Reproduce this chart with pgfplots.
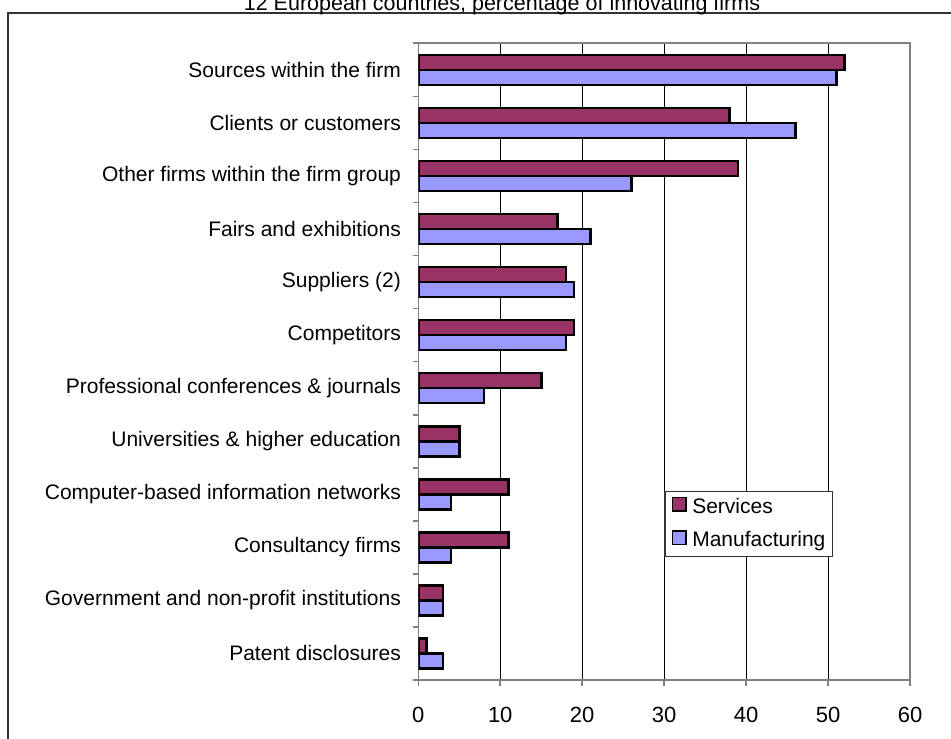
\documentclass[border=0pt]{standalone}
\usepackage{fontspec}
\setmainfont{Liberation Sans}
\usepackage{pgfplots}
\pgfplotsset{compat=1.18}
\definecolor{services}{RGB}{153,51,102}
\definecolor{manuf}{RGB}{153,153,255}
\definecolor{axisgray}{RGB}{128,128,128}
\definecolor{framegray}{RGB}{51,51,51}

% one picture pixel = 0.5pt
\pgfplotstableread{
y  manuf services
0  3  1
1  3  3
2  4  11
3  4  11
4  5  5
5  8  15
6  18 19
7  19 18
8  21 17
9  26 39
10 46 38
11 51 52
}\sourcedata

\begin{document}
\begin{tikzpicture}
\begin{axis}[
  at={(209.15pt,29pt)}, anchor=south west,
  scale only axis, width=245.85pt, height=318.35pt,
  xbar, bar width=7.5pt,
  xmin=0, xmax=60, ymin=-0.5, ymax=11.5,
  xtick={0,10,...,60},
  ytick={0,...,11},
  yticklabels={Patent disclosures,
    Government and non-profit institutions,
    Consultancy firms,
    Computer-based information networks,
    Universities \& higher education,
    Professional conferences \& journals,
    Competitors,
    Suppliers (2),
    Fairs and exhibitions,
    Other firms within the firm group,
    Clients or customers,
    Sources within the firm},
  minor ytick={-0.5,0.5,...,11.5},
  tick align=outside,
  major tick length=3pt, minor tick length=2.5pt,
  major y tick style={draw=none},
  minor y tick style={draw=axisgray, line width=0.8pt},
  major x tick style={draw=axisgray, line width=0.8pt},
  xtick pos=bottom, ytick pos=left,
  xmajorgrids, grid style={black, line width=0.5pt},
  axis line style={axisgray, line width=0.8pt},
  /pgf/number format/assume math mode=true,
  xticklabel style={font=\fontsize{11}{13}\selectfont, inner sep=0pt, anchor=north, yshift=-10.5pt},
  yticklabel style={font=\fontsize{10.5}{12}\selectfont, inner sep=0pt, anchor=east, xshift=-5.5pt},
  reverse legend, legend cell align=left,
  legend style={at={(0.5003,0.2968)}, anchor=north west, draw=framegray, line width=0.6pt,
    fill=white, font=\fontsize{10.5}{12}\selectfont,
    inner xsep=3.4pt, inner ysep=2.6pt, row sep=6.2pt, column sep=2.85pt,
    nodes={inner sep=0pt, text height=8pt, text depth=2.5pt}},
  legend image code/.code={\draw[#1, line width=0.8pt] (0pt,-1.7pt) rectangle (6.65pt,4.95pt);},
]
\addplot[fill=manuf, draw=black, line width=1.3pt, bar shift=-3.75pt]
  table[x=manuf, y=y] {\sourcedata};
\addplot[fill=services, draw=black, line width=1.3pt, bar shift=3.75pt]
  table[x=services, y=y] {\sourcedata};
\legend{Manufacturing, Services}
\end{axis}
\draw[framegray, line width=1pt] (3.75pt,-5pt) -- (3.75pt,362.65pt) -- (480pt,362.65pt);
\node[anchor=base, inner sep=0pt, font=\fontsize{10.75}{12}\selectfont] at (251pt,363.5pt)
  {12 European countries, percentage of innovating firms};
\pgfresetboundingbox
\path[use as bounding box] (0,0) rectangle (475.5pt,369pt);
\end{tikzpicture}
\end{document}
